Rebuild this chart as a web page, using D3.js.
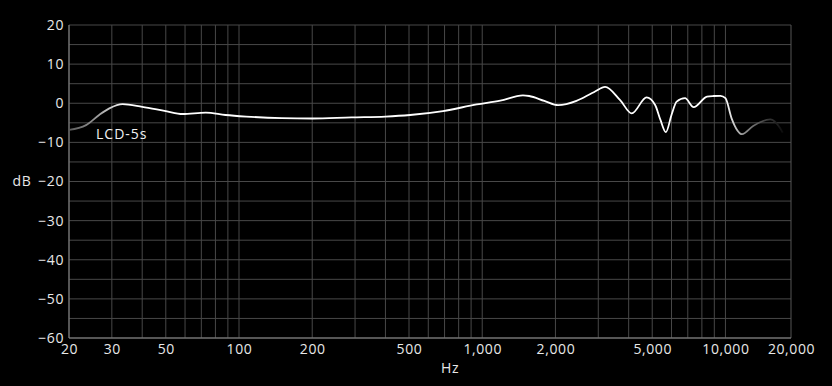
<!DOCTYPE html>
<html>
<head>
<meta charset="utf-8">
<script src="https://cdn.jsdelivr.net/npm/d3@7"></script>
<style>
  html, body { margin: 0; padding: 0; background: #000; }
  svg { display: block; }
</style>
</head>
<body>
<script>
var w = 832;
var h = 386;

// frequency response
var freqs = [20, 23.5, 26.6, 29.3, 33.2, 40, 50, 58.6, 73, 88, 107, 150, 200, 290, 400, 505, 690, 950,
             1186, 1470, 1560, 1800, 2050, 2440, 2770, 2910, 3200, 3690, 4120, 4740, 5140, 5400, 5690,
             6000, 6300, 6820, 7400, 8400, 8950, 9540, 10000, 10600, 11700, 13000, 15300, 16800, 17200];
var dbs   = [-6.8, -5.6, -3.0, -1.3, -0.2, -0.9, -2.0, -2.75, -2.4, -3.0, -3.4, -3.8, -3.9, -3.6, -3.4, -3.0, -2.0, -0.3,
             0.65, 2.0, 1.85, 0.6, -0.5, 0.6, 2.3, 3.0, 4.2, 0.8, -2.6, 1.5, -0.45, -4.2, -7.4,
             -3.0, 0.4, 1.3, -1.0, 1.7, 1.85, 1.9, 1.3, -3.85, -7.9, -5.8, -4.1, -6.4, -7.5];

var seriesName = "LCD-5s";
var yTicks = [20, 10, 0, -10, -20, -30, -40, -50, -60];
var yGrid = d3.range(-60, 21, 5);
var xTicks = [20, 30, 50, 100, 200, 500, 1000, 2000, 5000, 10000, 20000];
var xTickLabels = ["20", "30", "50", "100", "200", "500", "1,000", "2,000", "5,000", "10,000", "20,000"];
var xGrid = [20, 30, 40, 50, 60, 70, 80, 90, 100, 200, 300, 400, 500, 600, 700, 800, 900,
             1000, 2000, 3000, 4000, 5000, 6000, 7000, 8000, 9000, 10000];

var margin = {left: 69, right: 41, top: 25, bottom: 48};
var font = "'Open Sans', sans-serif";

var x = d3.scaleLog()
  .domain([20, 18600])
  .range([margin.left, w - margin.right])
  .clamp(true);

var y = d3.scaleLinear()
  .domain([-60, 20])
  .range([h - margin.bottom, margin.top]);

var svg = d3.select("body").append("svg")
  .attr("width", w)
  .attr("height", h)
  .style("background", "#000");

// grid
svg.append("g").selectAll("line")
  .data(yGrid)
  .enter().append("line")
  .attr("x1", x.range()[0]).attr("x2", x.range()[1])
  .attr("y1", function(d){ return y(d); }).attr("y2", function(d){ return y(d); })
  .attr("stroke", "#484848").attr("stroke-width", 1);

svg.append("g").selectAll("line")
  .data(xGrid)
  .enter().append("line")
  .attr("x1", function(d){ return x(d); }).attr("x2", function(d){ return x(d); })
  .attr("y1", y.range()[0]).attr("y2", y.range()[1])
  .attr("stroke", "#484848").attr("stroke-width", 1);

// frame
svg.append("line")
  .attr("x1", x.range()[1]).attr("x2", x.range()[1])
  .attr("y1", y.range()[0]).attr("y2", y.range()[1])
  .attr("stroke", "#555");
svg.append("line")
  .attr("x1", x.range()[0]).attr("x2", x.range()[0])
  .attr("y1", y.range()[0]).attr("y2", y.range()[1])
  .attr("stroke", "#888");
svg.append("line")
  .attr("x1", x.range()[0]).attr("x2", x.range()[1])
  .attr("y1", y.range()[0]).attr("y2", y.range()[0])
  .attr("stroke", "#888");

// axes
var yAxis = svg.append("g")
  .attr("transform", "translate(" + (margin.left - 5) + ",0)")
  .call(d3.axisLeft(y).tickValues(yTicks).tickSize(0).tickPadding(0).tickFormat(d3.format("d")));
yAxis.select(".domain").remove();

var xAxis = svg.append("g")
  .attr("transform", "translate(0," + (h - margin.bottom + 6) + ")")
  .call(d3.axisBottom(x).tickValues(xTicks).tickSize(0).tickPadding(0)
    .tickFormat(function(d, i){ return xTickLabels[i]; }));
xAxis.select(".domain").remove();

svg.selectAll(".tick text")
  .attr("fill", "#e8e8e8")
  .style("font-family", font)
  .style("font-size", "14px")
  .style("letter-spacing", "0.6px");

// axis titles
svg.append("text")
  .text("dB")
  .attr("x", 22).attr("y", y(-20))
  .attr("dy", "0.35em")
  .attr("text-anchor", "middle")
  .attr("fill", "#e8e8e8")
  .style("font-family", font).style("font-size", "14px").style("letter-spacing", "0.6px");

svg.append("text")
  .text("Hz")
  .attr("x", 450).attr("y", 368)
  .attr("dy", "0.35em")
  .attr("text-anchor", "middle")
  .attr("fill", "#e8e8e8")
  .style("font-family", font).style("font-size", "14px").style("letter-spacing", "0.6px");

// curve with faded ends
var grad = svg.append("defs").append("linearGradient")
  .attr("id", "fade")
  .attr("gradientUnits", "userSpaceOnUse")
  .attr("x1", x.range()[0]).attr("x2", x.range()[1])
  .attr("y1", 0).attr("y2", 0);

function off(f) {
  return (x(f) - x.range()[0]) / (x.range()[1] - x.range()[0]);
}
var stops = [[20, "#5a5a5a"], [26, "#999"], [34, "#ffffff"], [10000, "#ffffff"], [11700, "#999"],
             [14500, "#444"], [17200, "#0c0c0c"]];
grad.selectAll("stop")
  .data(stops)
  .enter().append("stop")
  .attr("offset", function(d){ return off(d[0]); })
  .attr("stop-color", function(d){ return d[1]; });

var pts = freqs.map(function(f, i){ return [f, dbs[i]]; });

var line = d3.line()
  .x(function(d){ return x(d[0]); })
  .y(function(d){ return y(d[1]); })
  .curve(d3.curveMonotoneX);

svg.append("path")
  .datum(pts)
  .attr("d", line)
  .attr("fill", "none")
  .attr("stroke", "url(#fade)")
  .attr("stroke-width", 1.8);

svg.append("text")
  .text(seriesName)
  .attr("x", 96).attr("y", y(-8))
  .attr("dy", "0.35em")
  .attr("fill", "#f0f0f0")
  .style("font-family", font)
  .style("font-size", "14px")
  .style("letter-spacing", "1px");
</script>
</body>
</html>
